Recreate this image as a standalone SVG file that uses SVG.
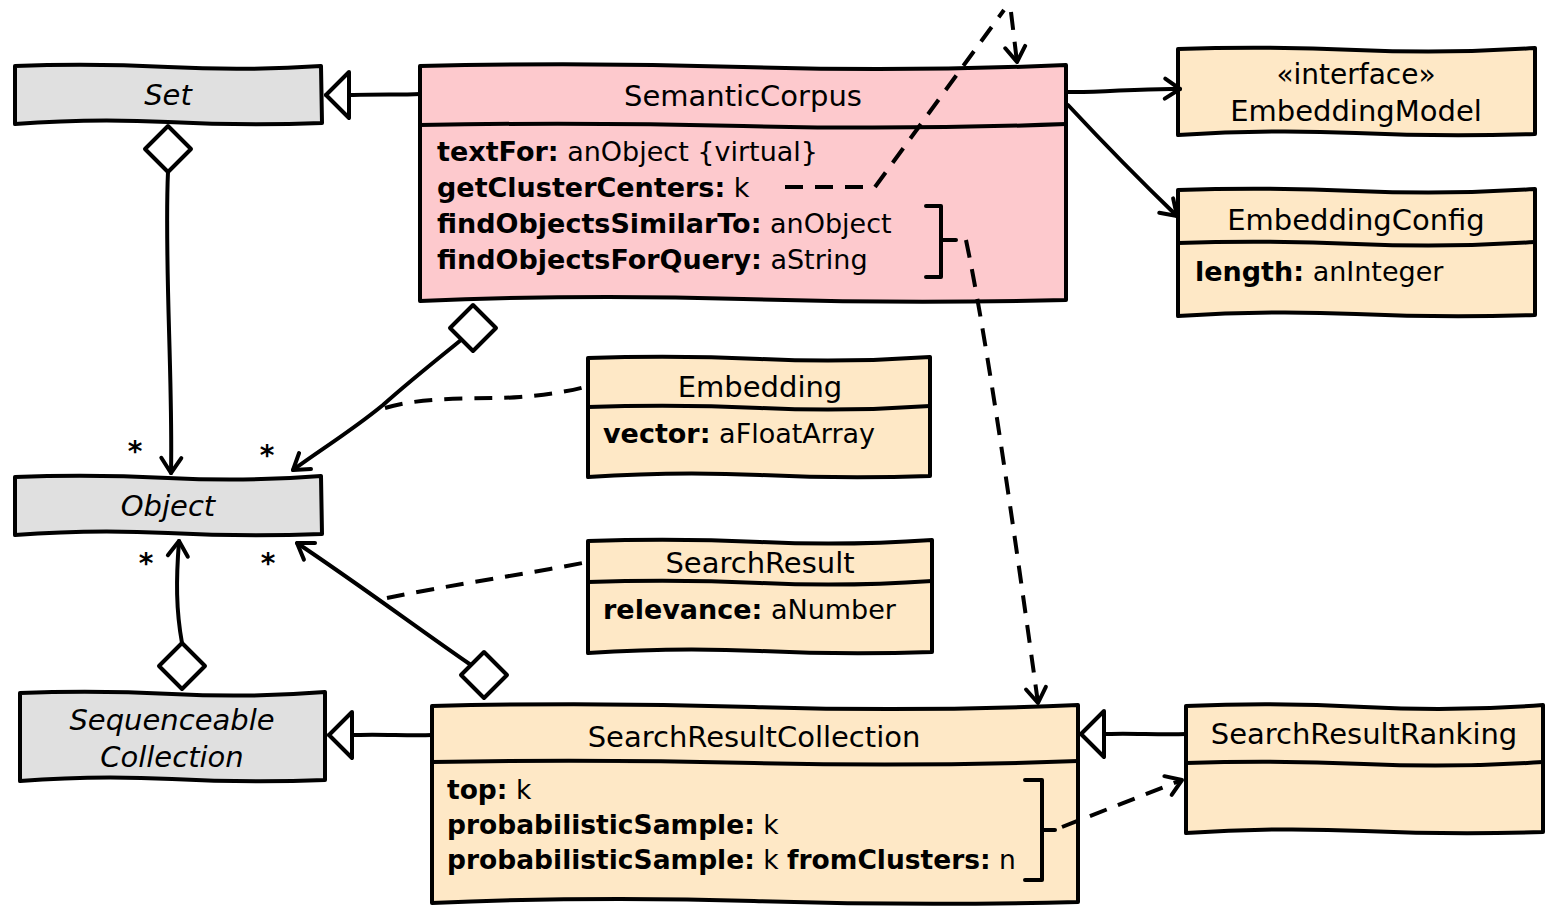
<svg xmlns="http://www.w3.org/2000/svg" width="1562" height="918" viewBox="0 0 1562 918">
<style>
.box{stroke:#000;stroke-width:4;stroke-linejoin:round}
.div{fill:none;stroke:#000;stroke-width:4}
.grey{fill:#e0e0e0}
.pink{fill:#fdc9cd}
.tan{fill:#fee8c6}
text{font-family:"DejaVu Sans","Liberation Sans",sans-serif;fill:#000}
.name{font-size:29px;text-anchor:middle}
.abs{font-style:italic}
.body{font-size:27px}
.b{font-weight:bold}
.star{font-size:28px;text-anchor:middle;font-weight:bold}
.ln{fill:none;stroke:#000;stroke-width:4;stroke-linecap:round;stroke-linejoin:round}
.dash{stroke-dasharray:18 12;stroke-linecap:butt}
.hollow{fill:#fff;stroke:#000;stroke-width:4;stroke-linejoin:round}
</style>
<defs>
<marker id="arrow" markerUnits="userSpaceOnUse" viewBox="-20 -14 24 28" markerWidth="24" markerHeight="28" refX="0" refY="0" orient="auto">
<path d="M-15 -10 L0 0 L-15 10" fill="none" stroke="#000" stroke-width="4" stroke-linecap="round" stroke-linejoin="round"/>
</marker>
<marker id="tri" markerUnits="userSpaceOnUse" viewBox="-30 -28 34 56" markerWidth="34" markerHeight="56" refX="0" refY="0" orient="auto">
<path d="M0 0 L-23 -23 L-23 23 Z" fill="#fff" stroke="#000" stroke-width="4" stroke-linejoin="round"/>
</marker>
<polygon id="dia" class="hollow" points="0,-23 23,0 0,23 -23,0"/>
</defs>

<g id="Set">
<path class="box grey" d="M15 66 Q90 63 168 67 T321 66 L322 123 Q245 126 168 122 T15 124 Z"/>
<text class="name abs" x="168" y="105">Set</text>
</g>

<g id="Object">
<path class="box grey" d="M15 477 Q90 474 168 478 T321 476 L322 534 Q245 537 168 533 T15 535 Z"/>
<text class="name abs" x="168" y="516">Object</text>
</g>

<g id="SequenceableCollection">
<path class="box grey" d="M20 693 Q95 690 172 694 T325 692 L325 780 Q250 783 172 779 T20 781 Z"/>
<text class="name abs" x="172" y="730">Sequenceable</text>
<text class="name abs" x="172" y="767">Collection</text>
</g>

<g id="SemanticCorpus">
<path class="box pink" d="M420 66 Q580 62 743 67 T1066 65 L1066 300 Q905 304 743 299 T420 301 Z"/>
<path class="div" d="M420 125 Q580 122 743 126 T1066 124"/>
<text class="name" x="743" y="106">SemanticCorpus</text>
<text class="body" x="437" y="161"><tspan class="b">textFor:</tspan> anObject {virtual}</text>
<text class="body" x="437" y="197"><tspan class="b">getClusterCenters:</tspan> k</text>
<text class="body" x="437" y="233"><tspan class="b">findObjectsSimilarTo:</tspan> anObject</text>
<text class="body" x="437" y="269"><tspan class="b">findObjectsForQuery:</tspan> aString</text>
</g>

<g id="EmbeddingModel">
<path class="box tan" d="M1178 49 Q1265 46 1356 50 T1535 48 L1535 134 Q1445 137 1356 133 T1178 135 Z"/>
<text class="name" x="1356" y="84" style="font-size:28px">«interface»</text>
<text class="name" x="1356" y="121">EmbeddingModel</text>
</g>

<g id="EmbeddingConfig">
<path class="box tan" d="M1178 190 Q1265 187 1356 191 T1535 189 L1535 315 Q1445 318 1356 314 T1178 316 Z"/>
<path class="div" d="M1178 243 Q1265 240 1356 244 T1535 242"/>
<text class="name" x="1356" y="230">EmbeddingConfig</text>
<text class="body" x="1195" y="281"><tspan class="b">length:</tspan> anInteger</text>
</g>

<g id="Embedding">
<path class="box tan" d="M588 358 Q675 355 760 359 T930 357 L930 476 Q845 479 760 475 T588 477 Z"/>
<path class="div" d="M588 407 Q675 404 760 408 T930 406"/>
<text class="name" x="760" y="397">Embedding</text>
<text class="body" x="603" y="443"><tspan class="b">vector:</tspan> aFloatArray</text>
</g>

<g id="SearchResult">
<path class="box tan" d="M588 541 Q675 538 760 542 T932 540 L932 652 Q845 655 760 651 T588 653 Z"/>
<path class="div" d="M588 582 Q675 579 760 583 T932 581"/>
<text class="name" x="760" y="573">SearchResult</text>
<text class="body" x="603" y="619"><tspan class="b">relevance:</tspan> aNumber</text>
</g>

<g id="SearchResultCollection">
<path class="box tan" d="M432 706 Q590 702 754 707 T1078 705 L1078 902 Q915 906 754 901 T432 903 Z"/>
<path class="div" d="M432 762 Q590 759 754 763 T1078 761"/>
<text class="name" x="754" y="747">SearchResultCollection</text>
<text class="body" x="447" y="799" style="font-size:26.5px"><tspan class="b">top:</tspan> k</text>
<text class="body" x="447" y="834" style="font-size:26.5px"><tspan class="b">probabilisticSample:</tspan> k</text>
<text class="body" x="447" y="869" style="font-size:26.5px"><tspan class="b">probabilisticSample:</tspan> k <tspan class="b">fromClusters:</tspan> n</text>
</g>

<g id="SearchResultRanking">
<path class="box tan" d="M1186 706 Q1275 702 1364 707 T1543 705 L1543 832 Q1455 835 1364 831 T1186 833 Z"/>
<path class="div" d="M1186 763 Q1275 760 1364 764 T1543 762"/>
<text class="name" x="1364" y="744">SearchResultRanking</text>
</g>

<g id="connectors">
<!-- generalizations -->
<path class="ln" d="M420 94 C400 95 380 94 353 95 L326 95" marker-end="url(#tri)"/>
<path class="ln" d="M432 735 C410 736 380 734 357 735 L329 735" marker-end="url(#tri)"/>
<path class="ln" d="M1186 734 C1160 735 1130 733 1108 734 L1081 734" marker-end="url(#tri)"/>
<!-- aggregations -->
<path class="ln" d="M168 172 C164 260 173 380 171 473" marker-end="url(#arrow)"/>
<use href="#dia" x="168" y="149"/>
<path class="ln" d="M461 340 C430 365 405 385 383 405 C350 432 320 450 293 470" marker-end="url(#arrow)"/>
<use href="#dia" x="473" y="328"/>
<path class="ln" d="M182 643 C176 610 176 580 179 541" marker-end="url(#arrow)"/>
<use href="#dia" x="182" y="666"/>
<path class="ln" d="M471 665 C420 630 360 585 297 543" marker-end="url(#arrow)"/>
<use href="#dia" x="484" y="675"/>
<!-- association classes -->
<path class="ln dash" d="M385 408 C430 395 480 400 520 397 C555 394 575 390 588 386"/>
<path class="ln dash" d="M387 598 C450 585 520 575 588 562"/>
<!-- associations -->
<path class="ln" d="M1067 92 C1100 93 1140 88 1180 89" marker-end="url(#arrow)"/>
<path class="ln" d="M1068 105 C1110 150 1150 190 1177 216" marker-end="url(#arrow)"/>
<!-- dependencies -->
<path class="ln dash" d="M785 187 L875 187 L1004 10"/>
<path class="ln dash" d="M1011 12 L1017 62" marker-end="url(#arrow)"/>
<path class="ln" d="M926 206 L941 206 L941 277 L926 277 M941 240 L956 240"/>
<path class="ln dash" d="M966 240 C985 330 1010 500 1038 703" marker-end="url(#arrow)"/>
<path class="ln" d="M1025 780 L1042 780 L1042 880 L1025 880 M1042 830 L1055 830"/>
<path class="ln dash" d="M1062 827 L1182 780" marker-end="url(#arrow)"/>
<!-- multiplicities -->
<text class="star" x="135" y="461">*</text>
<text class="star" x="267" y="465">*</text>
<text class="star" x="146" y="573">*</text>
<text class="star" x="268" y="573">*</text>
</g>
</svg>
